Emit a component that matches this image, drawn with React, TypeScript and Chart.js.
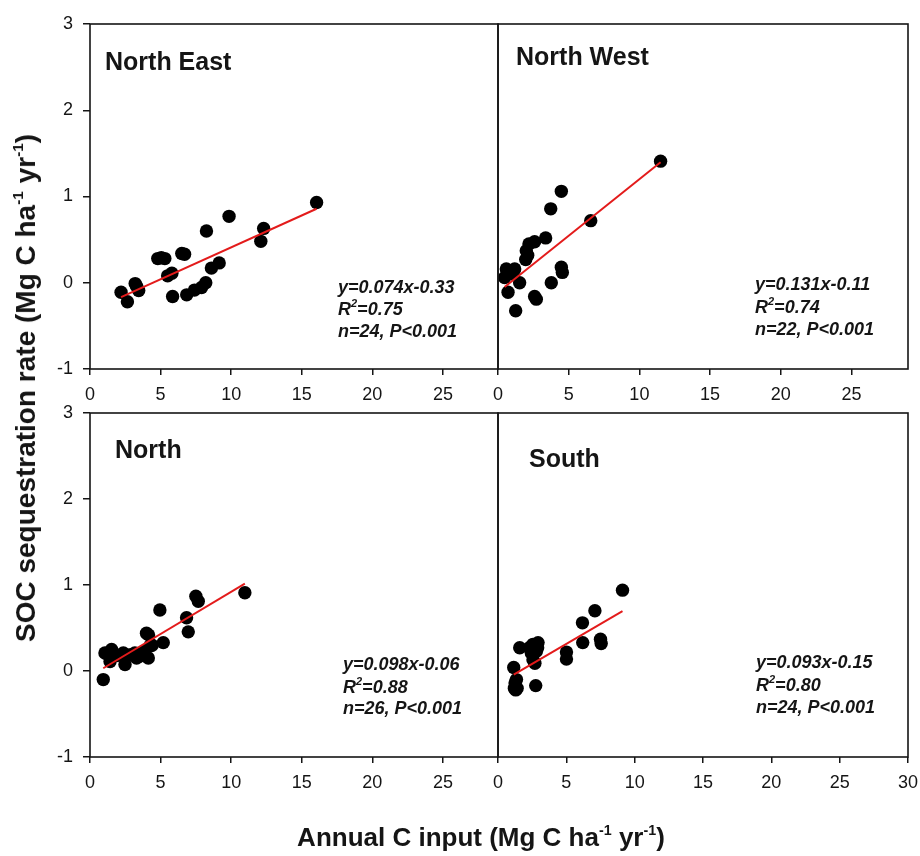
import React, { useEffect, useRef } from "react";
import { Chart, registerables } from "chart.js";
Chart.register(...registerables);

// ---------- data ----------
const NE_X = [2.2, 2.65, 3.2, 3.45, 4.8, 5.05, 5.3, 5.5, 5.8, 5.85, 6.5, 6.7, 6.85, 7.4, 7.9, 8.2, 8.25, 8.6, 9.15, 9.85, 12.1, 12.3, 16.05, 3.3];
const NE_Y = [-0.11, -0.22, -0.01, -0.09, 0.28, 0.29, 0.28, 0.08, 0.11, -0.16, 0.34, 0.33, -0.14, -0.085, -0.055, 0.0, 0.6, 0.17, 0.23, 0.77, 0.48, 0.63, 0.93, -0.04];

const NW_X = [0.59, 1.18, 0.47, 1.06, 1.53, 0.71, 1.25, 2.59, 2.71, 3.77, 4.48, 4.55, 2.0, 1.96, 2.19, 2.59, 3.37, 2.1, 3.73, 4.48, 6.56, 11.5];
const NW_Y = [0.16, 0.16, 0.06, 0.1, 0.0, -0.11, -0.325, -0.16, -0.19, 0.0, 0.18, 0.12, 0.37, 0.27, 0.45, 0.475, 0.52, 0.32, 0.857, 1.06, 0.72, 1.41];

const N_X = [0.94, 1.06, 1.53, 1.42, 1.9, 2.36, 2.48, 2.9, 3.18, 3.3, 3.6, 3.89, 4.0, 4.13, 4.25, 4.15, 5.19, 4.95, 6.84, 6.96, 7.5, 7.67, 10.97, 1.2, 3.5, 4.4];
const N_Y = [-0.1, 0.21, 0.25, 0.11, 0.18, 0.21, 0.075, 0.19, 0.21, 0.15, 0.2, 0.23, 0.44, 0.15, 0.29, 0.42, 0.33, 0.71, 0.62, 0.455, 0.87, 0.81, 0.91, 0.2, 0.17, 0.3];

const S_X = [1.15, 1.35, 1.2, 1.3, 1.59, 2.56, 2.93, 2.44, 2.81, 2.56, 2.76, 5.01, 5.01, 6.18, 6.2, 7.5, 7.55, 7.09, 9.11, 2.7, 1.25, 2.3, 2.9, 1.4];
const S_Y = [0.04, -0.1, -0.2, -0.22, 0.27, 0.31, 0.33, 0.21, 0.23, 0.13, -0.17, 0.22, 0.14, 0.56, 0.33, 0.37, 0.32, 0.7, 0.94, 0.09, -0.14, 0.27, 0.27, -0.2];

const PANEL_NAMES = ["North East", "North West", "North", "South"];
const SLOPES = [0.074, 0.131, 0.098, 0.093];
const INTERCEPTS = [-0.33, -0.11, -0.06, -0.15];
const EQ_LABELS = ["y=0.074x-0.33", "y=0.131x-0.11", "y=0.098x-0.06", "y=0.093x-0.15"];
const R2_VALUES = ["=0.75", "=0.74", "=0.88", "=0.80"];
const N_LABELS = ["n=24, P<0.001", "n=22, P<0.001", "n=26, P<0.001", "n=24, P<0.001"];

const X_TICKS_A = [0, 5, 10, 15, 20, 25];
const X_TICKS_B = [0, 5, 10, 15, 20, 25, 30];
const Y_TICKS = [-1, 0, 1, 2, 3];

const X_TITLE = "Annual C input (Mg C ha";
const Y_TITLE = "SOC sequestration rate (Mg C ha";

// ---------- layout / style ----------
const W = 920;
const H = 856;
const FONT = '"Liberation Sans", Arial, Helvetica, sans-serif';
const INK = "#151515";

const PANELS = [
  { xs: NE_X, ys: NE_Y, area: { l: 90, t: 24, r: 498, b: 369 }, xMax: 28.9, xTicks: X_TICKS_A, showY: true, label: [15, 46], annot: [248, 269, 291, 313] },
  { xs: NW_X, ys: NW_Y, area: { l: 498, t: 24, r: 908, b: 369 }, xMax: 29, xTicks: X_TICKS_A, showY: false, label: [18, 41], annot: [257, 266, 289, 311] },
  { xs: N_X, ys: N_Y, area: { l: 90, t: 413, r: 498, b: 757 }, xMax: 28.9, xTicks: X_TICKS_A, showY: true, label: [25, 45], annot: [253, 257, 280, 301] },
  { xs: S_X, ys: S_Y, area: { l: 498, t: 413, r: 908, b: 757 }, xMax: 30, xTicks: X_TICKS_B, showY: false, label: [31, 54], annot: [258, 255, 278, 300] },
];

const Y_AXIS_W = 90;
const X_AXIS_H = 40;

function makeChart(canvas: HTMLCanvasElement, idx: number) {
  const p = PANELS[idx];
  const pts = p.xs.map((x, i) => ({ x, y: p.ys[i] }));
  const xmin = Math.min(...p.xs);
  const xmax = Math.max(...p.xs);
  const fit = [
    { x: xmin, y: SLOPES[idx] * xmin + INTERCEPTS[idx] },
    { x: xmax, y: SLOPES[idx] * xmax + INTERCEPTS[idx] },
  ];
  const yW = p.showY ? Y_AXIS_W : 0;
  const padLeft = p.area.l - yW;

  const textPlugin = {
    id: "panelText" + idx,
    afterDraw(chart: any) {
      const { ctx, chartArea: a } = chart;
      ctx.save();
      ctx.strokeStyle = INK;
      ctx.lineWidth = 1.6;
      ctx.strokeRect(a.left, a.top, a.right - a.left, a.bottom - a.top);
      ctx.fillStyle = INK;
      ctx.textBaseline = "alphabetic";
      ctx.textAlign = "left";
      ctx.font = `bold 25px ${FONT}`;
      ctx.fillText(PANEL_NAMES[idx], a.left + p.label[0], a.top + p.label[1]);
      const ax = a.left + p.annot[0];
      ctx.font = `italic bold 18px ${FONT}`;
      ctx.fillText(EQ_LABELS[idx], ax, a.top + p.annot[1]);
      const yb = a.top + p.annot[2];
      ctx.fillText("R", ax, yb);
      const rw = ctx.measureText("R").width;
      ctx.font = `italic bold 11px ${FONT}`;
      ctx.fillText("2", ax + rw, yb - 8);
      const sw = ctx.measureText("2").width;
      ctx.font = `italic bold 18px ${FONT}`;
      ctx.fillText(R2_VALUES[idx], ax + rw + sw, yb);
      ctx.fillText(N_LABELS[idx], ax, a.top + p.annot[3]);
      ctx.restore();
    },
  };

  return new Chart(canvas, {
    type: "scatter",
    data: {
      datasets: [
        {
          type: "line",
          data: fit,
          borderColor: "#e31b1b",
          borderWidth: 2,
          pointRadius: 0,
          showLine: true,
          fill: false,
        } as any,
        {
          data: pts,
          backgroundColor: "#000",
          borderColor: "#000",
          borderWidth: 0,
          pointRadius: 6.7,
          pointHoverRadius: 6.7,
        },
      ],
    },
    options: {
      responsive: false,
      animation: false,
      devicePixelRatio: 1,
      events: [],
      layout: {
        padding: {
          left: padLeft,
          top: p.area.t,
          right: W - p.area.r,
          bottom: H - p.area.b - X_AXIS_H,
        },
      },
      plugins: { legend: { display: false }, tooltip: { enabled: false }, title: { display: false } },
      scales: {
        x: {
          type: "linear",
          min: 0,
          max: p.xMax,
          afterBuildTicks: (s: any) => {
            s.ticks = p.xTicks.map((v) => ({ value: v }));
          },
          afterFit: (s: any) => {
            s.height = X_AXIS_H;
            s.paddingLeft = 0;
            s.paddingRight = 0;
            s.paddingTop = 0;
            s.paddingBottom = 0;
          },
          grid: { display: true, drawOnChartArea: false, drawTicks: true, tickLength: 6, color: INK, lineWidth: 1.5 },
          border: { display: false },
          ticks: { color: INK, font: { family: FONT, size: 18 }, padding: 9, maxRotation: 0, autoSkip: false },
        },
        y: {
          type: "linear",
          display: p.showY,
          min: -1,
          max: 3,
          afterBuildTicks: (s: any) => {
            s.ticks = Y_TICKS.map((v) => ({ value: v }));
          },
          afterFit: (s: any) => {
            s.width = yW;
            s.paddingTop = 0;
            s.paddingBottom = 0;
            s.paddingLeft = 0;
            s.paddingRight = 0;
          },
          grid: { display: true, drawOnChartArea: false, drawTicks: true, tickLength: 7, color: INK, lineWidth: 1.5 },
          border: { display: false },
          ticks: { color: INK, font: { family: FONT, size: 18 }, padding: 10, autoSkip: false },
        },
      },
    },
    plugins: [textPlugin],
  } as any);
}

const supStyle: React.CSSProperties = {
  fontSize: "0.55em",
  verticalAlign: "baseline",
  position: "relative",
  top: "-0.75em",
};

export default function App() {
  const refs = useRef<(HTMLCanvasElement | null)[]>([]);
  useEffect(() => {
    const charts = PANELS.map((_, i) => makeChart(refs.current[i] as HTMLCanvasElement, i));
    return () => charts.forEach((c) => c.destroy());
  }, []);

  return (
    <div style={{ position: "absolute", left: 0, top: 0, width: W, height: H, background: "#fff", overflow: "hidden", fontFamily: FONT, color: INK }}>
      {PANELS.map((_, i) => (
        <canvas
          key={i}
          ref={(el) => {
            refs.current[i] = el;
          }}
          width={W}
          height={H}
          style={{ position: "absolute", left: 0, top: 0, width: W, height: H }}
        />
      ))}
      <div
        style={{
          position: "absolute",
          left: 26,
          top: 388,
          transform: "translate(-50%, -50%) rotate(-90deg)",
          whiteSpace: "nowrap",
          fontWeight: "bold",
          fontSize: 28,
        }}
      >
        {Y_TITLE}
        <span style={supStyle}>-1</span> yr<span style={supStyle}>-1</span>)
      </div>
      <div
        style={{
          position: "absolute",
          left: 481,
          top: 837,
          transform: "translate(-50%, -50%)",
          whiteSpace: "nowrap",
          fontWeight: "bold",
          fontSize: 26,
        }}
      >
        {X_TITLE}
        <span style={supStyle}>-1</span> yr<span style={supStyle}>-1</span>)
      </div>
    </div>
  );
}
